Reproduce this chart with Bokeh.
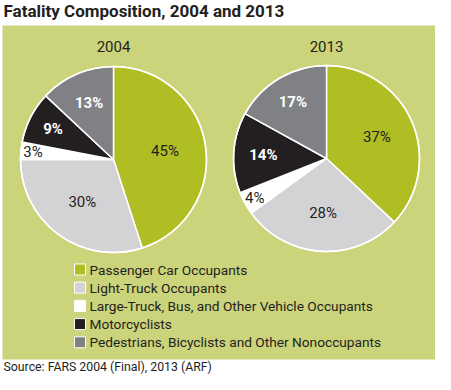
import math
from bokeh.plotting import figure
from bokeh.models import Range1d
from bokeh.core.properties import value
from bokeh.embed import file_html
from bokeh.resources import INLINE

# ---- data ----
categories = ["Passenger Car Occupants", "Light-Truck Occupants",
              "Large-Truck, Bus, and Other Vehicle Occupants", "Motorcyclists",
              "Pedestrians, Bicyclists and Other Nonoccupants"]
years = ["2004", "2013"]
share_2004 = [45, 30, 3, 9, 13]
share_2013 = [37, 28, 4, 14, 17]
title = "Fatality Composition, 2004 and 2013"
source = "Source: FARS 2004 (Final), 2013 (ARF)"

# ---- styles / layout ----
colors = ["#b0bd23", "#d3d3d5", "#ffffff", "#231f20", "#808184"]
label_colors = ["#231f20", "#231f20", "#231f20", "#ffffff", "#ffffff"]
label_styles = ["normal", "normal", "normal", "bold", "bold"]
label_r_2004 = [0.56, 0.57, 0.87, 0.73, 0.66]
label_r_2013 = [0.59, 0.59, 0.88, 0.68, 0.71]
BG = "#cbd37b"
DARK = "#231f20"
FONT = "Roboto"
H = 390  # reference height, used to flip y


def Y(y):
    return H - y


p = figure(width=435, height=374, output_backend="svg", toolbar_location=None,
           x_range=Range1d(2, 437), y_range=Range1d(Y(377), Y(3)),
           x_axis_type=None, y_axis_type=None, min_border=0)
p.grid.visible = False
p.outline_line_color = None
p.background_fill_color = "white"
p.border_fill_color = "white"

# green panel
p.quad(left=4, right=440, top=Y(28), bottom=Y(362), fill_color=BG, line_color=None)

# title
p.text(x=[5], y=[Y(13)], text=[title], text_font=value(FONT), text_font_size="17px",
       text_font_style="bold", text_color=DARK, text_baseline="middle", text_align="left")

R = 93
pies = [(share_2004, 115, 162, label_r_2004), (share_2013, 328, 161, label_r_2013)]
for (vals, cx, cy, lr), yr in zip(pies, years):
    total = float(sum(vals))
    cum = 0.0
    starts, ends, lx, ly = [], [], [], []
    for v, rf in zip(vals, lr):
        a0 = math.pi / 2 - 2 * math.pi * cum / total
        a1 = math.pi / 2 - 2 * math.pi * (cum + v) / total
        mid = (a0 + a1) / 2
        starts.append(a0)
        ends.append(a1)
        lx.append(cx + rf * R * math.cos(mid))
        ly.append(Y(cy) + rf * R * math.sin(mid))
        cum += v
    p.wedge(x=[cx] * len(vals), y=[Y(cy)] * len(vals), radius=R, radius_units="screen",
            start_angle=starts, end_angle=ends, direction="clock",
            fill_color=colors, line_color="white", line_width=1.5)
    p.circle(x=[cx], y=[Y(cy)], radius=R, radius_units="screen", fill_color=None,
             line_color="white", line_width=1.5)
    p.text(x=[cx], y=[Y(49)], text=[yr], text_font=value(FONT), text_font_size="15px",
           text_color=DARK, text_baseline="middle", text_align="center")
    for i in range(len(vals)):
        p.text(x=[lx[i]], y=[ly[i]], text=["%d%%" % vals[i]], text_font=value(FONT),
               text_font_size="15px", text_font_style=label_styles[i],
               text_color=label_colors[i], text_baseline="middle", text_align="center")

# legend
for i, cat in enumerate(categories):
    yy = Y(272 + i * 18.2)
    p.rect(x=[81.5], y=[yy], width=11, height=11, width_units="screen", height_units="screen",
           fill_color=colors[i], line_color="white", line_width=1)
    p.text(x=[91], y=[yy], text=[cat], text_font=value(FONT), text_font_size="13.7px",
           text_color=DARK, text_baseline="middle", text_align="left")

# source
p.text(x=[5], y=[Y(369.5)], text=[source], text_font=value(FONT), text_font_size="12.3px",
       text_color=DARK, text_baseline="middle", text_align="left")

open("out.html", "w").write(file_html(p, INLINE))
